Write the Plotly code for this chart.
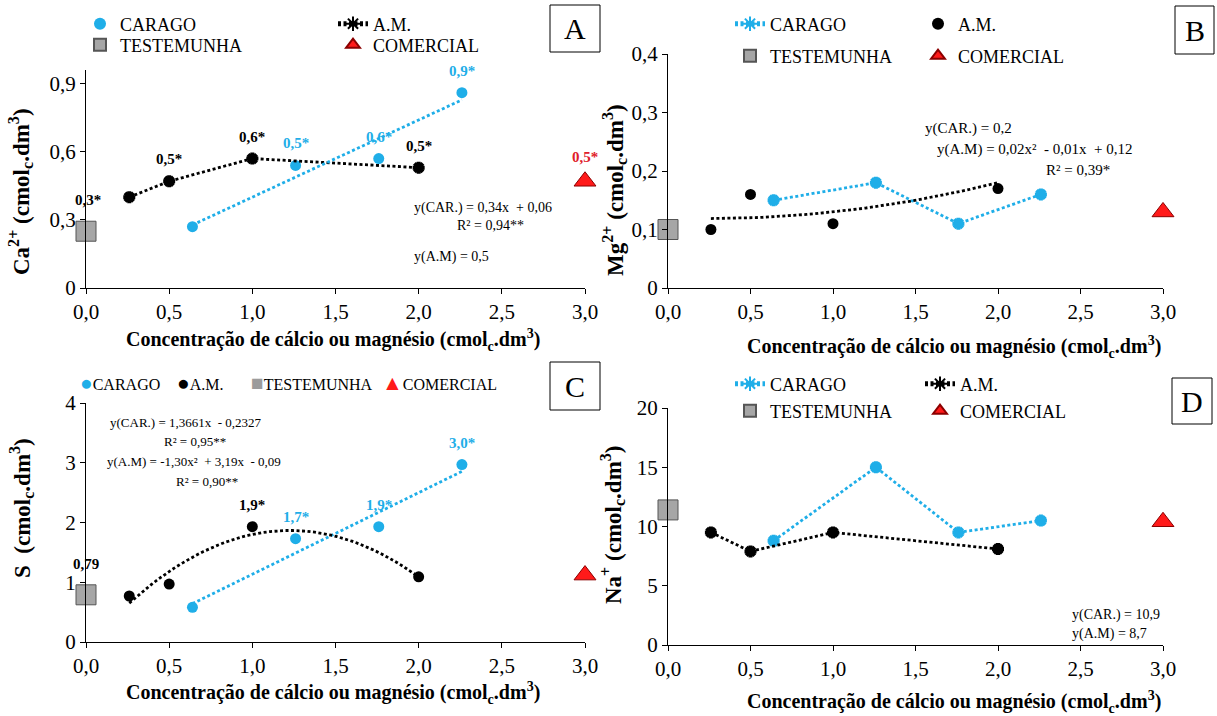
import numpy as np
import plotly.graph_objects as go

W, H = 1217, 716
SERIF = "Liberation Serif, Times New Roman, serif"
CYAN = "#1FAEE8"
RED = "#FF1A1A"
GRAY = "#A6A6A6"

# ---------------- DATA ----------------
car_x = [0.64, 1.26, 1.76, 2.26]
am_x = [0.26, 0.50, 1.00, 2.00]
test_x = 0.0
com_x = 3.0

# Panel A - Ca2+
ca_car = [0.27, 0.54, 0.57, 0.86]
ca_am = [0.40, 0.47, 0.57, 0.53]
ca_test = 0.25
ca_com = 0.47
ca_car_fit = [0.34, 0.06]
ca_car_lbl = ["", "0,5*", "0,6*", "0,9*"]
ca_am_lbl = ["", "0,5*", "0,6*", "0,5*"]
ca_test_lbl = "0,3*"
ca_com_lbl = "0,5*"

# Panel B - Mg2+
mg_car = [0.15, 0.18, 0.11, 0.16]
mg_am = [0.10, 0.16, 0.11, 0.17]
mg_test = 0.10
mg_com = 0.13
mg_am_fit = [0.02, -0.01, 0.12]

# Panel C - S
s_car = [0.58, 1.73, 1.93, 2.97]
s_am = [0.77, 0.97, 1.93, 1.09]
s_test = 0.79
s_com = 1.12
s_car_fit = [1.3661, -0.2327]
s_am_fit = [-1.30, 3.19, -0.09]
s_car_lbl = ["", "1,7*", "1,9*", "3,0*"]
s_am_lbl = ["", "", "1,9*", ""]
s_test_lbl = "0,79"

# Panel D - Na+
na_car = [8.8, 15.0, 9.5, 10.5]
na_am = [9.5, 7.9, 9.5, 8.1]
na_test = 11.4
na_com = 10.4

x_ticks = [0, 0.5, 1.0, 1.5, 2.0, 2.5, 3.0]
x_ticktext = ["0,0", "0,5", "1,0", "1,5", "2,0", "2,5", "3,0"]
yA_ticks, yA_text = [0, 0.3, 0.6, 0.9], ["0", "0,3", "0,6", "0,9"]
yB_ticks, yB_text = [0, 0.1, 0.2, 0.3, 0.4], ["0", "0,1", "0,2", "0,3", "0,4"]
yC_ticks, yC_text = [0, 1, 2, 3, 4], ["0", "1", "2", "3", "4"]
yD_ticks, yD_text = [0, 5, 10, 15, 20], ["0", "5", "10", "15", "20"]

# ---------------- helpers ----------------
def px(x):
    return x / W

def py(y):
    return 1 - y / H

DOT = "3px,2.5px"
LW = 2.8

fig = go.Figure()

def mk_circle(color):
    return dict(symbol="circle", size=11, color=color, line=dict(width=0))

def mk_star(color):
    return dict(symbol="asterisk-open", size=10, color=color, line=dict(width=4, color=color))

def mk_square():
    return dict(symbol="square", size=20, color=GRAY, line=dict(width=1, color="#555555"))

def mk_tri():
    return dict(symbol="triangle-up", size=19, color=RED, line=dict(width=1, color="#8B0000"))

def add(trace):
    fig.add_trace(trace)

# ---- Panel A ----
add(go.Scatter(x=car_x, y=ca_car, mode="markers", marker=mk_circle(CYAN), name="CARAGO",
               xaxis="x", yaxis="y", legend="legend", cliponaxis=False))
add(go.Scatter(x=am_x, y=ca_am, mode="lines+markers", marker=mk_star("black"),
               line=dict(color="black", width=LW, dash=DOT), name="A.M.",
               xaxis="x", yaxis="y", legend="legend2", cliponaxis=False))
fx = np.array([car_x[0], car_x[-1]])
add(go.Scatter(x=fx, y=ca_car_fit[0] * fx + ca_car_fit[1], mode="lines",
               line=dict(color=CYAN, width=LW, dash=DOT), showlegend=False, xaxis="x", yaxis="y"))
add(go.Scatter(x=[test_x], y=[ca_test], mode="markers", marker=mk_square(), name="TESTEMUNHA",
               xaxis="x", yaxis="y", legend="legend3", cliponaxis=False))
add(go.Scatter(x=[com_x], y=[ca_com], mode="markers", marker=mk_tri(), name="COMERCIAL",
               xaxis="x", yaxis="y", legend="legend4", cliponaxis=False))

# ---- Panel B ----
add(go.Scatter(x=car_x, y=mg_car, mode="lines+markers", marker=mk_star(CYAN),
               line=dict(color=CYAN, width=LW, dash=DOT), name="CARAGO",
               xaxis="x2", yaxis="y2", legend="legend5", cliponaxis=False))
add(go.Scatter(x=am_x, y=mg_am, mode="markers", marker=mk_circle("black"), name="A.M.",
               xaxis="x2", yaxis="y2", legend="legend6", cliponaxis=False))
qx = np.linspace(am_x[0], am_x[-1], 40)
add(go.Scatter(x=qx, y=mg_am_fit[0] * qx ** 2 + mg_am_fit[1] * qx + mg_am_fit[2], mode="lines",
               line=dict(color="black", width=LW, dash=DOT), showlegend=False, xaxis="x2", yaxis="y2"))
add(go.Scatter(x=[test_x], y=[mg_test], mode="markers", marker=mk_square(), name="TESTEMUNHA",
               xaxis="x2", yaxis="y2", legend="legend7", cliponaxis=False))
add(go.Scatter(x=[com_x], y=[mg_com], mode="markers", marker=mk_tri(), name="COMERCIAL",
               xaxis="x2", yaxis="y2", legend="legend8", cliponaxis=False))

# ---- Panel C ----
add(go.Scatter(x=fx, y=s_car_fit[0] * fx + s_car_fit[1], mode="lines",
               line=dict(color=CYAN, width=LW, dash=DOT), showlegend=False, xaxis="x3", yaxis="y3"))
add(go.Scatter(x=qx, y=s_am_fit[0] * qx ** 2 + s_am_fit[1] * qx + s_am_fit[2], mode="lines",
               line=dict(color="black", width=LW, dash=DOT), showlegend=False, xaxis="x3", yaxis="y3"))
add(go.Scatter(x=car_x, y=s_car, mode="markers", marker=mk_circle(CYAN), name="CARAGO",
               xaxis="x3", yaxis="y3", showlegend=False, cliponaxis=False))
add(go.Scatter(x=am_x, y=s_am, mode="markers", marker=mk_circle("black"), name="A.M.",
               xaxis="x3", yaxis="y3", showlegend=False, cliponaxis=False))
add(go.Scatter(x=[test_x], y=[s_test], mode="markers", marker=mk_square(), name="TESTEMUNHA",
               xaxis="x3", yaxis="y3", showlegend=False, cliponaxis=False))
add(go.Scatter(x=[com_x], y=[s_com], mode="markers", marker=mk_tri(), name="COMERCIAL",
               xaxis="x3", yaxis="y3", showlegend=False, cliponaxis=False))

# ---- Panel D ----
add(go.Scatter(x=car_x, y=na_car, mode="lines+markers", marker=mk_star(CYAN),
               line=dict(color=CYAN, width=LW, dash=DOT), name="CARAGO",
               xaxis="x4", yaxis="y4", legend="legend13", cliponaxis=False))
add(go.Scatter(x=am_x, y=na_am, mode="lines+markers", marker=mk_star("black"),
               line=dict(color="black", width=LW, dash=DOT), name="A.M.",
               xaxis="x4", yaxis="y4", legend="legend14", cliponaxis=False))
add(go.Scatter(x=[test_x], y=[na_test], mode="markers", marker=mk_square(), name="TESTEMUNHA",
               xaxis="x4", yaxis="y4", legend="legend15", cliponaxis=False))
add(go.Scatter(x=[com_x], y=[na_com], mode="markers", marker=mk_tri(), name="COMERCIAL",
               xaxis="x4", yaxis="y4", legend="legend16", cliponaxis=False))

# ---------------- axes ----------------
TICKFONT = dict(family=SERIF, size=21, color="black")

def xaxis(dom, anchor):
    return dict(domain=[px(dom[0]), px(dom[1])], range=[0, 3], anchor=anchor,
                tickvals=x_ticks, ticktext=x_ticktext, showline=True, linecolor="black",
                linewidth=1, ticks="outside", ticklen=5, tickcolor="black", showgrid=False,
                zeroline=False, tickfont=TICKFONT, automargin=False)

def yaxis(dom, anchor, rng, tv, tt):
    return dict(domain=[py(dom[0]), py(dom[1])], range=rng, anchor=anchor,
                tickvals=tv, ticktext=tt, showline=True, linecolor="black",
                linewidth=1, ticks="outside", ticklen=5, tickcolor="black", showgrid=False,
                zeroline=False, tickfont=TICKFONT, automargin=False)

layout = dict(
    width=W, height=H, margin=dict(l=0, r=0, t=0, b=0, pad=0, autoexpand=False),
    paper_bgcolor="white", plot_bgcolor="white",
    xaxis=xaxis((86, 585), "y"),
    yaxis=yaxis((288, 70), "x", [0, 0.96], yA_ticks, yA_text),
    xaxis2=xaxis((668, 1163), "y2"),
    yaxis2=yaxis((288, 54), "x2", [0, 0.4], yB_ticks, yB_text),
    xaxis3=xaxis((86, 585), "y3"),
    yaxis3=yaxis((642, 403), "x3", [0, 4], yC_ticks, yC_text),
    xaxis4=xaxis((668, 1163), "y4"),
    yaxis4=yaxis((645, 408), "x4", [0, 20], yD_ticks, yD_text),
)

# legends: (text start x px, center y px)
leg_pos = {
    "legend": (120, 24), "legend2": (373, 24), "legend3": (120, 45), "legend4": (373, 45),
    "legend5": (770, 24), "legend6": (958, 24), "legend7": (770, 56), "legend8": (958, 56),
    "legend13": (770, 384), "legend14": (960, 384), "legend15": (770, 411), "legend16": (960, 411),
}
for k, (tx, ty) in leg_pos.items():
    layout[k] = dict(x=px(tx - 40), y=py(ty), xanchor="left", yanchor="middle",
                     bgcolor="rgba(0,0,0,0)", borderwidth=0, itemsizing="constant",
                     font=dict(family=SERIF, size=18, color="black"), orientation="v")

fig.update_layout(**layout)

ann = []

def lab(xr, yr, x, y, text, color, shift=22, xshift=0):
    if text:
        ann.append(dict(x=x, y=y, xref=xr, yref=yr, text="<b>" + text + "</b>", showarrow=False,
                        yshift=shift, xshift=xshift, font=dict(family=SERIF, size=15, color=color)))

for xv, yv, t in zip(car_x, ca_car, ca_car_lbl):
    lab("x", "y", xv, yv, t, CYAN)
for xv, yv, t in zip(am_x, ca_am, ca_am_lbl):
    lab("x", "y", xv, yv, t, "black")
lab("x", "y", test_x, ca_test, ca_test_lbl, "black", 31, 2)
lab("x", "y", com_x, ca_com, ca_com_lbl, "#E0202A", 24)
for xv, yv, t in zip(car_x, s_car, s_car_lbl):
    lab("x3", "y3", xv, yv, t, CYAN)
for xv, yv, t in zip(am_x, s_am, s_am_lbl):
    lab("x3", "y3", xv, yv, t, "black")
lab("x3", "y3", test_x, s_test, s_test_lbl, "black", 31)

def txt(x, y, text, size=14, anchor="left", bold=False, color="black", angle=0):
    ann.append(dict(x=px(x), y=py(y), xref="paper", yref="paper", text=("<b>%s</b>" % text) if bold else text,
                    showarrow=False, xanchor=anchor, yanchor="middle", textangle=angle,
                    font=dict(family=SERIF, size=size, color=color)))

# panel C legend (inline symbols)
SYM = '<span style="color:%s;font-size:21px">%s</span>'
txt(78, 383, SYM % (CYAN, "●") + "CARAGO", size=16)
txt(175, 383, SYM % ("black", "●") + "A.M.", size=16)
txt(249, 383, SYM % ("#9C9C9C", "■") + "TESTEMUNHA", size=16)
txt(380, 383, SYM % (RED, "▲") + "COMERCIAL", size=16)

# equations
txt(412, 208, "y(CAR.) = 0,34x  + 0,06")
txt(490, 226, "R² = 0,94**", anchor="center")
txt(412, 257, "y(A.M) = 0,5")
txt(923, 128, "y(CAR.) = 0,2", size=15)
txt(935, 150, "y(A.M) = 0,02x²  - 0,01x  + 0,12", size=15)
txt(1078, 170, "R² = 0,39*", anchor="center", size=15)
txt(108, 422, "y(CAR.) = 1,3661x  - 0,2327", size=13)
txt(195, 441, "R² = 0,95**", anchor="center", size=13)
txt(105, 462, "y(A.M) = -1,30x²  + 3,19x  - 0,09", size=13)
txt(207, 481, "R² = 0,90**", anchor="center", size=13)
txt(1070, 615, "y(CAR.) = 10,9")
txt(1070, 634, "y(A.M) = 8,7")

# axis titles
XT = "Concentração de cálcio ou magnésio (cmol<sub>c</sub>.dm<sup>3</sup>)"
txt(333, 340, XT, size=20, anchor="center", bold=True)
txt(954, 347, XT, size=20, anchor="center", bold=True)
txt(333, 693, XT, size=20, anchor="center", bold=True)
txt(954, 702, XT, size=20, anchor="center", bold=True)
txt(21, 192, "Ca<sup>2+</sup> (cmol<sub>c</sub>.dm<sup>3</sup>)", size=23, anchor="center", bold=True, angle=-90)
txt(614, 190, "Mg<sup>2+</sup> (cmol<sub>c</sub>.dm<sup>3</sup>)", size=23, anchor="center", bold=True, angle=-90)
txt(21, 508, "S  (cmol<sub>c</sub>.dm<sup>3</sup>)", size=23, anchor="center", bold=True, angle=-90)
txt(612, 525, "Na<sup>+</sup> (cmol<sub>c</sub>.dm<sup>3</sup>)", size=23, anchor="center", bold=True, angle=-90)

# panel letter boxes
shapes = []
for letter, (x0, y0, x1, y1) in {"A": (550, 5, 600, 52), "B": (1175, 6, 1214, 54),
                                 "C": (550, 362, 600, 410), "D": (1172, 378, 1212, 424)}.items():
    shapes.append(dict(type="rect", xref="paper", yref="paper", x0=px(x0), x1=px(x1), y0=py(y1), y1=py(y0),
                       line=dict(color="black", width=1), fillcolor="white"))
    txt((x0 + x1) / 2, (y0 + y1) / 2, letter, size=30, anchor="center")

fig.update_layout(annotations=ann, shapes=shapes)
fig.write_html("out.html")
